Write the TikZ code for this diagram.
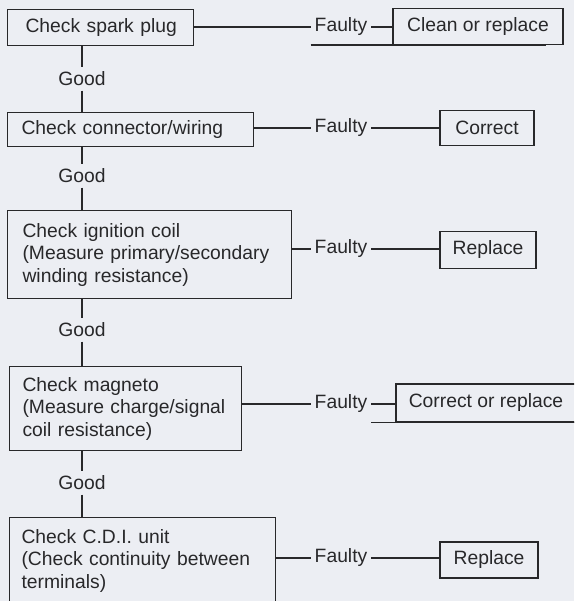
\documentclass[tikz,border=0pt]{standalone}
\usepackage{fontspec}
\setmainfont{Liberation Sans}

\definecolor{paper}{RGB}{236,238,243}
\definecolor{ink}{RGB}{40,40,42}

\begin{document}
\begin{tikzpicture}[x=1pt, y=-1pt, line width=1.1pt, draw=ink, text=ink,
  check/.style={draw, anchor=north west, align=left, inner ysep=0pt},
  fixbox/.style={draw, minimum height=36pt, inner sep=0pt, align=center},
  verdict/.style={inner xsep=3.5pt, inner ysep=4pt}]
\fontsize{19.3}{22.5}\selectfont
\fill[paper] (0,0) rectangle (574,601);
\useasboundingbox (0,0) rectangle (574,601);
\clip (0,0) rectangle (574,601);

% left column: the checks
\node[check, text width=158pt, inner xsep=14pt, minimum height=36pt] (plug) at (7,9) {\hspace*{4pt}Check spark plug};
\node[check, text width=218pt, inner xsep=14pt, minimum height=34pt] (wiring) at (7,112) {Check connector/wiring};
\node[check, text width=254pt, inner xsep=15pt, minimum height=88pt] (coil) at (7,210)
  {Check ignition coil\\(Measure primary/secondary\\winding resistance)};
\node[check, text width=206pt, inner xsep=13pt, minimum height=84pt] (magneto) at (9,366)
  {Check magneto\\(Measure charge/signal\\coil resistance)};
\node[check, text width=242pt, inner xsep=12pt, minimum height=86pt] (cdi) at (9,517)
  {Check C.D.I. unit\\(Check continuity between\\terminals)};

% Good between the checks
\node[verdict] (g1) at (82,79) {Good};
\node[verdict] (g2) at (82,176) {Good};
\node[verdict] (g3) at (82,330) {Good};
\node[verdict] (g4) at (82,483) {Good};

% Faulty branches
\node[verdict] (f1) at (341,27) {Faulty};
\node[verdict] (f2) at (341,128) {Faulty};
\node[verdict] (f3) at (341,249) {Faulty};
\node[verdict] (f4) at (341,404) {Faulty};
\node[verdict] (f5) at (341,558) {Faulty};

% right column: the remedies
\node[fixbox, minimum width=170pt] (clean) at (478,26.5) {Clean or replace};
\node[fixbox, minimum width=94pt, minimum height=35pt] (correct) at (487,128) {Correct};
\node[fixbox, minimum width=96pt, minimum height=37pt] (coilfix) at (488,250) {Replace};
\node[fixbox, minimum width=180pt, minimum height=38pt] (magfix) at (486,403) {Correct or replace};
\node[fixbox, minimum width=98pt] (cdifix) at (489,560) {Replace};

\draw (plug.south -| g1) -- (g1) -- (g1 |- wiring.north);
\draw (wiring.south -| g2) -- (g2) -- (g2 |- coil.north);
\draw (coil.south -| g3) -- (g3) -- (g3 |- magneto.north);
\draw (magneto.south -| g4) -- (g4) -- (g4 |- cdi.north);

\draw (plug.east |- f1) -- (f1) -- (f1.east -| clean.west);
\draw (wiring.east |- f2) -- (f2) -- (correct);
\draw (coil.east |- f3) -- (f3) -- (f3.east -| coilfix.west);
\draw (magneto.east |- f4) -- (f4) -- (f4.east -| magfix.west);
\draw (cdi.east |- f5) -- (f5) -- (f5.east -| cdifix.west);

\draw (f1.west |- clean.south) -- ([xshift=-18pt]clean.south east);
\draw (f4.east |- magfix.south) -- (magfix.south east);
\end{tikzpicture}
\end{document}
